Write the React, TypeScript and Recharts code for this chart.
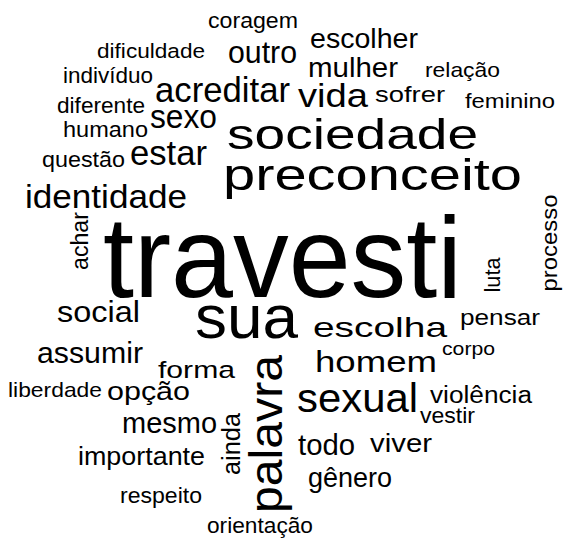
import React from 'react';
import { ScatterChart, Scatter, XAxis, YAxis } from 'recharts';

const words = [
  'coragem', 'dificuldade', 'outro', 'indivíduo', 'acreditar', 'diferente', 'sexo', 'humano',
  'questão', 'estar', 'identidade', 'sociedade', 'preconceito', 'escolher', 'mulher', 'relação',
  'vida', 'sofrer', 'feminino', 'travesti', 'achar', 'processo', 'luta', 'social', 'sua',
  'assumir', 'pensar', 'escolha', 'corpo', 'homem', 'forma', 'liberdade', 'opção', 'mesmo',
  'ainda', 'palavra', 'importante', 'respeito', 'orientação', 'sexual', 'violência', 'vestir',
  'todo', 'viver', 'gênero',
];

const xPos = [
  253, 151, 262.5, 108, 222.5, 101, 183.5, 105.5,
  83.5, 168.5, 106, 352.5, 372.5, 364, 353, 462.5,
  333, 410, 510, 282.5, 88, 557, 500, 98.5, 246.5,
  90, 500, 380, 468.5, 376, 196.5, 55, 148.5, 169.5,
  240, 282, 141.5, 161, 260, 357.5, 481, 447.5,
  326.5, 401, 350,
];

const yPos = [
  28, 58, 63, 83, 102, 113, 128, 137,
  167, 165, 208, 149, 190, 48, 77, 77,
  107, 102, 108, 297, 241, 243, 275, 322, 338,
  363, 325, 337, 355, 372, 378, 397, 400, 433,
  444, 434, 465, 503, 533, 412, 403, 423,
  455, 452, 487,
];

const weights = [
  22.5, 20.5, 31, 22.5, 35, 21.5, 33, 22,
  22, 35, 34, 42, 44, 27, 28, 21,
  34, 22.5, 21, 115, 23, 22.5, 22, 29, 61,
  29, 22.5, 28.5, 19, 29.5, 24.5, 21, 25.5, 29,
  25, 47, 25.5, 22.5, 22, 41, 23, 22.5,
  30, 26, 28,
];

const lengths = [
  90, 108, 69, 90, 135, 88, 67, 85,
  83, 77, 162, 251, 299, 108, 90, 75,
  70, 70, 90, 359, 58, 97, 35, 83, 103,
  106, 80, 134, 53, 122, 77, 94, 83, 95,
  62, 158, 127, 82, 106, 121, 102, 55,
  57, 62, 84,
];

const verticalWords = ['achar', 'processo', 'luta', 'ainda', 'palavra'];

const data = words.map((w, i) => ({
  word: w,
  x: xPos[i],
  y: yPos[i],
  size: weights[i],
  len: lengths[i],
  angle: verticalWords.includes(w) ? -90 : 0,
}));

const WordShape = (props: any) => {
  const { cx, cy, payload } = props;
  return (
    <text
      x={cx}
      y={cy}
      fontSize={payload.size}
      fontFamily="'Liberation Sans', Arial, sans-serif"
      textAnchor="middle"
      textLength={payload.len}
      lengthAdjust="spacingAndGlyphs"
      fill="#000"
      transform={payload.angle ? `rotate(${payload.angle}, ${cx}, ${cy})` : undefined}
    >
      {payload.word}
    </text>
  );
};

export default function App() {
  return (
    <div style={{ position: 'fixed', left: 0, top: 0, width: 563, height: 539, background: '#fff' }}>
      <ScatterChart width={563} height={539} margin={{ top: 0, right: 0, bottom: 0, left: 0 }}>
        <XAxis type="number" dataKey="x" domain={[0, 563]} hide />
        <YAxis type="number" dataKey="y" domain={[0, 539]} reversed hide />
        <Scatter data={data} shape={WordShape} isAnimationActive={false} />
      </ScatterChart>
    </div>
  );
}
